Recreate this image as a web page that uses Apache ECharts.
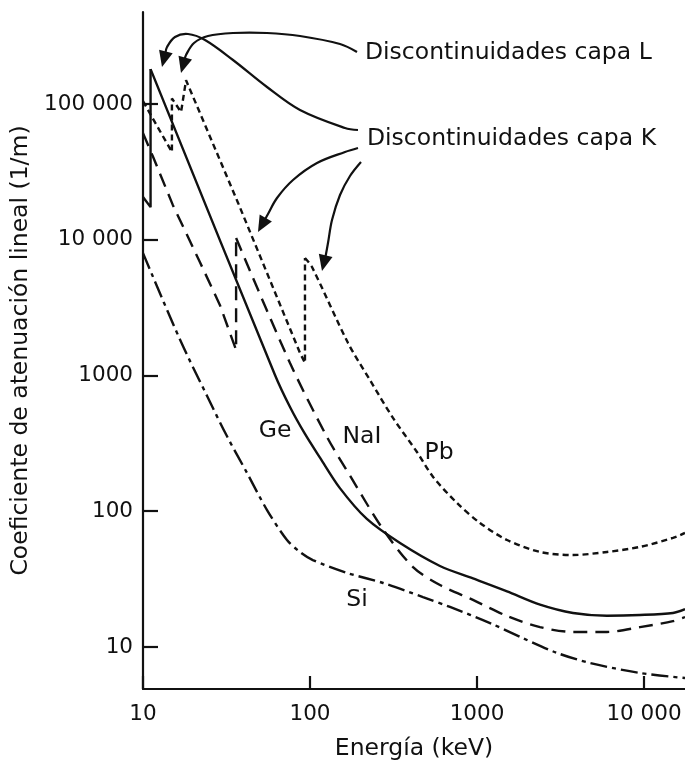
<!DOCTYPE html>
<html>
<head>
<meta charset="utf-8">
<script src="https://cdn.jsdelivr.net/npm/echarts@6/dist/echarts.min.js"></script>
<style>
  html, body { margin: 0; padding: 0; background: #fff; }
  #chart { width: 685px; height: 763px; }
</style>
</head>
<body>
<div id="chart"></div>
<script>
// Linear attenuation coefficient (1/m) against photon energy (keV)
const geEnergy = [10, 11.1, 11.1, 61.7, 75.9, 93.3, 115, 151, 219, 346, 600, 946, 1513, 2385, 3757, 6000, 9460, 14900, 17600];
const geCoef   = [20700, 17400, 181000, 1009, 586, 371, 247, 148, 87.7, 58.3, 39.5, 32, 25.7, 20.5, 17.8, 17.0, 17.2, 17.8, 19.0];

const naiEnergy = [10, 11.5, 15.1, 21.9, 28.9, 36.1, 36.1, 75.9, 126.5, 174, 274, 414, 600, 946, 1513, 2385, 3757, 6000, 9460, 14900, 17600];
const naiCoef   = [61100, 40700, 18000, 6860, 3300, 1540, 10300, 1237, 352, 182, 73.5, 38.8, 28.6, 22.2, 16.9, 14.0, 12.9, 12.9, 14.0, 15.5, 16.6];

const pbEnergy = [10, 14.9, 14.9, 16.9, 18.1, 37.1, 87.1, 93.3, 93.3, 102.8, 169, 228.5, 314, 437, 546, 759, 1042, 1513, 2385, 3757, 6000, 9460, 14900, 17600];
const pbCoef   = [105000, 44300, 110000, 87300, 150000, 18700, 1466, 1237, 7340, 6300, 1734, 927, 487, 273, 179, 115, 82, 61.4, 50.1, 47.6, 50.1, 54.6, 63.6, 69.2];

const siEnergy = [10, 16.7, 24.2, 31.8, 42.0, 55.3, 72.8, 87.1, 104, 167, 274, 475, 689, 1197, 1884, 3010, 4750, 9460, 17600];
const siCoef   = [7980, 1825, 706, 358, 191, 102, 61.4, 50.1, 43.7, 35.1, 29.6, 23.3, 19.7, 15.0, 11.6, 9.04, 7.62, 6.43, 5.90];

// Axis ticks and their printed labels
const xTickValues = [10, 100, 1000, 10000];
const xTickLabels = ['10', '100', '1000', '10 000'];
const yTickValues = [10, 100, 1000, 10000, 100000];
const yTickLabels = ['10', '100', '1000', '10 000', '100 000'];

const INK = '#111111';
const FONT = 'DejaVu Sans';
const LINE_W = 2.4;

function pairs(xs, ys) { return xs.map((x, i) => [x, ys[i]]); }
function tickLabel(values, labels) {
  return function (v) {
    const e = Math.round(Math.log10(v));
    const i = values.findIndex(t => Math.round(Math.log10(t)) === e);
    return i >= 0 ? labels[i] : '';
  };
}

// Annotation arrows (curved shafts ending in filled heads)
const arrows = [
  { pts: [[357, 52], [340, 44], [300, 36], [267, 33], [233, 33], [208, 36], [194, 43], [186, 55]], tip: [181, 73] },
  { pts: [[358, 130], [345, 128], [300, 110], [267, 87], [233, 60], [205, 40], [188, 34], [175, 37], [167, 47]], tip: [162, 67] },
  { pts: [[358, 148], [345, 152], [317, 163], [293, 180], [277, 198], [268, 214]], tip: [258, 232] },
  { pts: [[361, 162], [350, 176], [340, 195], [332, 220], [328, 243], [326, 254]], tip: [322, 271] }
];

function arrowElements(a) {
  const last = a.pts[a.pts.length - 1];
  const dx = a.tip[0] - last[0], dy = a.tip[1] - last[1];
  const len = Math.hypot(dx, dy);
  const ux = dx / len, uy = dy / len;
  const headLen = 16, half = 7;
  const bx = a.tip[0] - ux * headLen, by = a.tip[1] - uy * headLen;
  return [
    { type: 'polyline', shape: { points: a.pts.concat([[bx + ux * 2, by + uy * 2]]), smooth: 0.35 },
      style: { stroke: INK, lineWidth: 2.2, fill: null }, silent: true },
    { type: 'polygon', shape: { points: [a.tip, [bx - uy * half, by + ux * half], [bx + uy * half, by - ux * half]] },
      style: { fill: INK }, silent: true }
  ];
}

function textEl(text, x, y, align) {
  return { type: 'text', x: x, y: y, silent: true,
    style: { text: text, fill: INK, fontSize: 23.5, fontFamily: FONT, align: align || 'center', verticalAlign: 'middle' } };
}

const graphics = [];
arrows.forEach(a => graphics.push.apply(graphics, arrowElements(a)));
graphics.push(textEl('Discontinuidades capa L', 365, 53, 'left'));
graphics.push(textEl('Discontinuidades capa K', 367, 139, 'left'));
graphics.push(textEl('Ge', 275, 431));
graphics.push(textEl('NaI', 362, 437));
graphics.push(textEl('Pb', 439, 453));
graphics.push(textEl('Si', 357, 600));

// Each curve: the absorption-edge part is drawn as straight segments (sharp jumps),
// the part from the top of the last edge (index `bend`) onwards is drawn smoothed.
function curve(name, xs, ys, dash, bend) {
  const base = {
    name: name, type: 'line', showSymbol: false, symbol: 'none', clip: true, silent: true,
    lineStyle: { color: INK, width: LINE_W, type: dash, cap: 'butt' }
  };
  const data = pairs(xs, ys);
  const out = [];
  if (bend > 0) out.push(Object.assign({}, base, { data: data.slice(0, bend + 1), smooth: false }));
  out.push(Object.assign({}, base, { data: data.slice(bend), smooth: 0.3 }));
  return out;
}

const chart = echarts.init(document.getElementById('chart'), null, { renderer: 'canvas' });
chart.setOption({
  animation: false,
  backgroundColor: '#fff',
  grid: { left: 143, right: 0, top: 12, bottom: 74, containLabel: false, outerBoundsMode: 'none' },
  xAxis: {
    type: 'log', logBase: 10, min: 10, max: 17600,
    name: 'Energía (keV)', nameLocation: 'middle', nameGap: 48,
    nameTextStyle: { color: INK, fontSize: 23.5, fontFamily: FONT },
    axisLine: { show: true, lineStyle: { color: INK, width: 2.2 } },
    axisTick: { show: true, inside: true, length: 13, customValues: xTickValues, lineStyle: { color: INK, width: 2.2 } },
    axisLabel: { customValues: xTickValues, formatter: tickLabel(xTickValues, xTickLabels),
      color: INK, fontSize: 21.5, fontFamily: FONT, margin: 14 },
    minorTick: { show: false },
    splitLine: { show: false }
  },
  yAxis: {
    type: 'log', logBase: 10, min: 4.9, max: 477000,
    name: 'Coeficiente de atenuación lineal (1/m)', nameLocation: 'middle', nameGap: 100, nameRotate: 90,
    nameTextStyle: { color: INK, fontSize: 23.5, fontFamily: FONT },
    axisLine: { show: true, lineStyle: { color: INK, width: 2.2 } },
    axisTick: { show: true, inside: true, length: 15, customValues: yTickValues, lineStyle: { color: INK, width: 2.2 } },
    axisLabel: { customValues: yTickValues, formatter: tickLabel(yTickValues, yTickLabels),
      color: INK, fontSize: 21.5, fontFamily: FONT, margin: 10 },
    minorTick: { show: false },
    splitLine: { show: false }
  },
  series: [].concat(
    curve('Ge', geEnergy, geCoef, 'solid', 2),
    curve('NaI', naiEnergy, naiCoef, [14, 8], 6),
    curve('Pb', pbEnergy, pbCoef, [6, 4], 8),
    curve('Si', siEnergy, siCoef, [17, 5, 4, 5], 0)
  ),
  graphic: { elements: graphics }
});
</script>
</body>
</html>
